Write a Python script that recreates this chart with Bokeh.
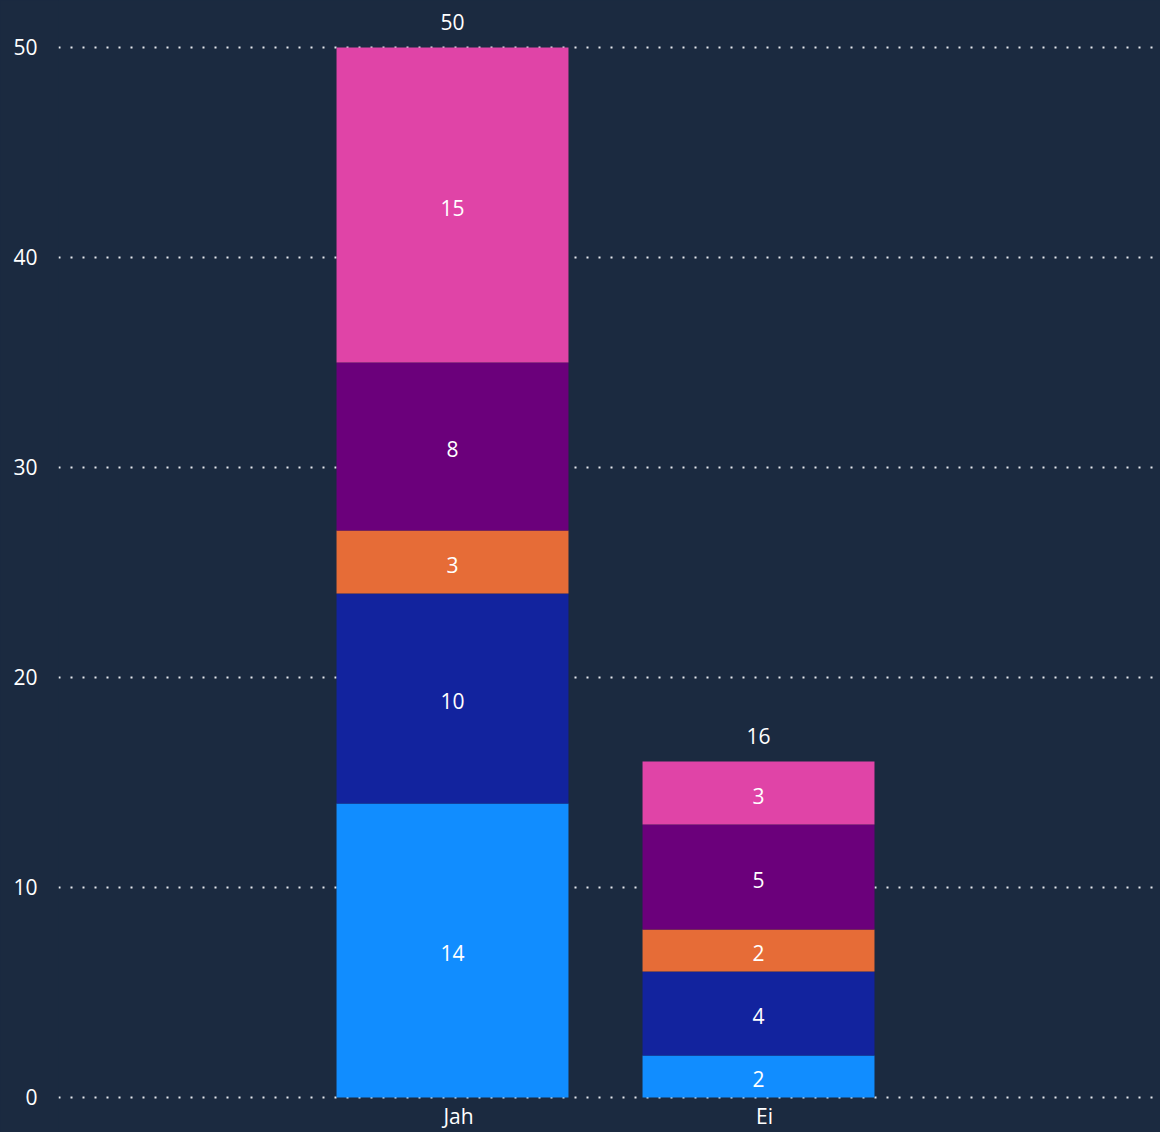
from bokeh.plotting import figure
from bokeh.models import ColumnDataSource, Range1d, FixedTicker
from bokeh.core.properties import value
from bokeh.embed import file_html
from bokeh.resources import INLINE

categories = ["Jah", "Ei"]
s1 = [14, 2]
s2 = [10, 4]
s3 = [3, 2]
s4 = [8, 5]
s5 = [15, 3]
colors = ["#118dff", "#12239e", "#e66c37", "#6b007b", "#e044a7"]
y_ticks = [0, 10, 20, 30, 40, 50]

BG = "#1b2a40"
FONT = "Open Sans"

series = [s1, s2, s3, s4, s5]
xpos = [i + 0.5 for i in range(len(categories))]

p = figure(width=1160, height=1132, output_backend="svg", toolbar_location=None,
           x_range=Range1d(-0.7876, 2.8137), y_range=Range1d(-1.667, 52.238),
           min_border_left=58, min_border_right=0, min_border_top=0, min_border_bottom=0,
           background_fill_color=BG, border_fill_color=BG, outline_line_color=None)

bottoms = [0.0] * len(categories)
lx, ly, lt = [], [], []
for vals, col in zip(series, colors):
    tops = [b + v for b, v in zip(bottoms, vals)]
    src = ColumnDataSource(dict(x=xpos, bottom=bottoms, top=tops))
    p.vbar(x="x", bottom="bottom", top="top", width=0.758, source=src,
           fill_color=col, line_color=None)
    for x, b, t, v in zip(xpos, bottoms, tops, vals):
        lx.append(x); ly.append((b + t) / 2); lt.append(str(v))
    bottoms = tops

p.text(x=lx, y=ly, text=lt, text_color="white", text_font=value(FONT),
       text_font_size="21px", text_align="center", text_baseline="middle", y_offset=3)

totals = bottoms
p.text(x=xpos, y=totals, text=[str(int(t)) for t in totals], text_color="white",
       text_font=value(FONT), text_font_size="21px", text_align="center",
       text_baseline="middle", y_offset=-25)

# category labels below the baseline
p.text(x=xpos, y=[0] * len(categories), text=categories, text_color="white",
       text_font=value(FONT), text_font_size="21px", text_align="center",
       text_baseline="top", x_offset=6, y_offset=5)

p.xgrid.visible = False
p.ygrid.ticker = FixedTicker(ticks=y_ticks)
p.ygrid.grid_line_color = "#e8eaee"
p.ygrid.grid_line_width = 2
p.ygrid.grid_line_dash = "2 10"

p.yaxis.ticker = FixedTicker(ticks=y_ticks)
p.yaxis.axis_line_color = None
p.yaxis.major_tick_line_color = None
p.yaxis.minor_tick_line_color = None
p.yaxis.major_label_text_color = "white"
p.yaxis.major_label_text_font = FONT
p.yaxis.major_label_text_font_size = "21px"
p.yaxis.major_label_standoff = 15

p.xaxis.visible = False

html = file_html(p, INLINE)
html = html.replace("</head>", "<style>html, body { background: %s; }</style></head>" % BG, 1)
open("out.html", "w").write(html)
